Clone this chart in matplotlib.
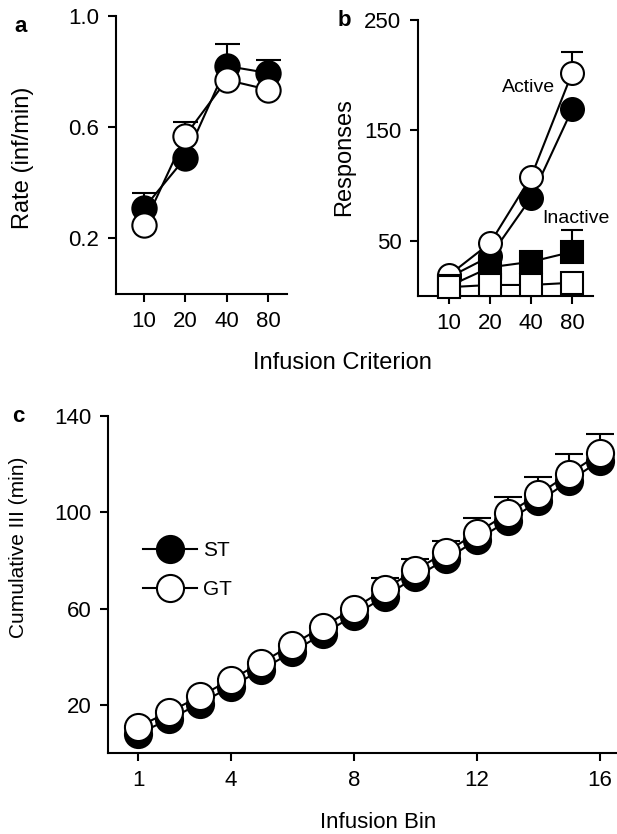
import numpy as np
import matplotlib
matplotlib.use("Agg")
import matplotlib.pyplot as plt

plt.rcParams["font.family"] = ["Liberation Sans", "DejaVu Sans"]

# -------------------------------------------------------------------------
# Data
# -------------------------------------------------------------------------
criteria = ["10", "20", "40", "80"]

# panel a: infusion rate
rate_st = [0.31, 0.49, 0.82, 0.795]
rate_gt = [0.25, 0.57, 0.77, 0.735]
rate_st_err = [0.055, 0.005, 0.08, 0.045]
rate_gt_err = [0.005, 0.05, 0.05, 0.005]

# panel b: active / inactive responses
active_st = [17, 36, 89, 169]
active_gt = [19, 48, 108, 202]
active_st_err = [0.5, 0.5, 0.5, 0.5]
active_gt_err = [0.5, 0.5, 0.5, 19]
inactive_st = [9, 26, 31, 40]
inactive_gt = [8, 10, 10, 12]
inactive_st_err = [0.5, 0.5, 0.5, 20]
inactive_gt_err = [0.5, 0.5, 0.5, 0.5]

# panel c: cumulative inter-infusion interval
bins = list(range(1, 17))
cum_st = [8, 14, 20.5, 27.5, 34.5, 42, 49.5, 57, 65, 73, 80.5, 88.5, 96.5, 104.5, 113, 121.5]
cum_gt = [11, 17, 23.5, 30.5, 37.5, 45, 52.5, 60, 68, 76, 83.5, 91.5, 99.5, 107.5, 116, 124.5]
cum_gt_err = [0.3, 0.3, 0.3, 0.3, 0.3, 0.3, 0.3, 0.3, 4.5, 4.5, 4.5, 6.3, 6.7, 7.1, 8.3, 7.9]

LW = 1.5
W, H = 617, 834


def style_axis(ax, size=16):
    for s in ("top", "right"):
        ax.spines[s].set_visible(False)
    for s in ("left", "bottom"):
        ax.spines[s].set_linewidth(LW)
    ax.tick_params(width=LW, length=6, direction="out", labelsize=size, pad=6)


def series(ax, x, y, err, marker, filled, ms, capw):
    """Line + markers with an upper-only error bar."""
    y = np.asarray(y, dtype=float)
    err = np.asarray(err, dtype=float)
    ax.errorbar(x, y, yerr=[np.zeros_like(err), err], fmt="none",
                ecolor="black", elinewidth=LW, capsize=0, zorder=1, clip_on=False)
    ax.plot(x, y + err, ls="none", marker="_", ms=capw, mew=LW, color="black",
            zorder=1, clip_on=False)
    ax.plot(x, y, "-", color="black", lw=LW, marker=marker, ms=ms,
            mfc="black" if filled else "white", mec="black", mew=LW,
            zorder=3, clip_on=False)


fig = plt.figure(figsize=(6.17, 8.34), dpi=100)


def axes_px(left, top, right, bottom):
    return fig.add_axes([left / W, 1 - bottom / H, (right - left) / W, (bottom - top) / H])


def fig_text(x, y, s, **kw):
    fig.text(x / W, 1 - y / H, s, ha="center", va="center", **kw)


# -------------------------------------------------------------------------
# a: Rate
# -------------------------------------------------------------------------
ax_a = axes_px(116, 16, 287, 294)
xa = np.arange(len(criteria))
series(ax_a, xa, rate_st, rate_st_err, "o", True, 17.5, 18)
series(ax_a, xa, rate_gt, rate_gt_err, "o", False, 17.5, 18)
ax_a.set_xlim(-0.68, 3.46)
ax_a.set_ylim(0, 1.0)
ax_a.set_yticks([0.2, 0.6, 1.0])
ax_a.set_yticklabels(["0.2", "0.6", "1.0"])
ax_a.set_xticks(xa)
ax_a.set_xticklabels(criteria)
style_axis(ax_a)
fig_text(23, 158, "Rate (inf/min)", fontsize=17, rotation=90)

# -------------------------------------------------------------------------
# b: Responses
# -------------------------------------------------------------------------
ax_b = axes_px(418, 20, 593, 296)
xb = np.arange(len(criteria))
series(ax_b, xb, active_st, active_st_err, "o", True, 16.5, 16.5)
series(ax_b, xb, active_gt, active_gt_err, "o", False, 16.5, 16.5)
series(ax_b, xb, inactive_st, inactive_st_err, "s", True, 16, 16.5)
series(ax_b, xb, inactive_gt, inactive_gt_err, "s", False, 16, 16.5)
ax_b.set_xlim(-0.76, 3.51)
ax_b.set_ylim(0, 250)
ax_b.set_yticks([50, 150, 250])
ax_b.set_xticks(xb)
ax_b.set_xticklabels(criteria)
style_axis(ax_b)
fig_text(344, 157, "Responses", fontsize=17, rotation=90)
ax_b.text(1.93, 189, "Active", fontsize=14, ha="center", va="center")
ax_b.text(3.1, 70, "Inactive", fontsize=14, ha="center", va="center")

fig_text(342, 363, "Infusion Criterion", fontsize=17)

# -------------------------------------------------------------------------
# c: Cumulative III
# -------------------------------------------------------------------------
ax_c = axes_px(108, 416, 617, 753)
ax_c.plot(bins, cum_st, "-", color="black", lw=LW, marker="o", ms=19.5,
          mfc="black", mec="black", mew=LW, zorder=2, clip_on=False, label="ST")
series(ax_c, bins, cum_gt, cum_gt_err, "o", False, 19.5, 20.5)
ax_c.lines[-1].set_label("GT")
ax_c.set_xlim(0.02, 16.55)
ax_c.set_ylim(0, 140)
ax_c.set_yticks([20, 60, 100, 140])
ax_c.set_xticks([1, 4, 8, 12, 16])
style_axis(ax_c)
fig_text(19, 547, "Cumulative III (min)", fontsize=15, rotation=90)
fig.text(378 / W, 1 - 828 / H, "Infusion Bin", fontsize=16, ha="center", va="baseline")
ax_c.legend(loc="center left", bbox_to_anchor=(0.048, 0.543), frameon=False,
            borderpad=0, fontsize=15, handlelength=2.6, handletextpad=0.3,
            labelspacing=0.95)

# panel letters
fig_text(21, 26, "a", fontsize=16, fontweight="bold")
fig_text(344, 21, "b", fontsize=16, fontweight="bold")
fig_text(18, 417, "c", fontsize=16, fontweight="bold")

fig.savefig("out.png", dpi=100)
